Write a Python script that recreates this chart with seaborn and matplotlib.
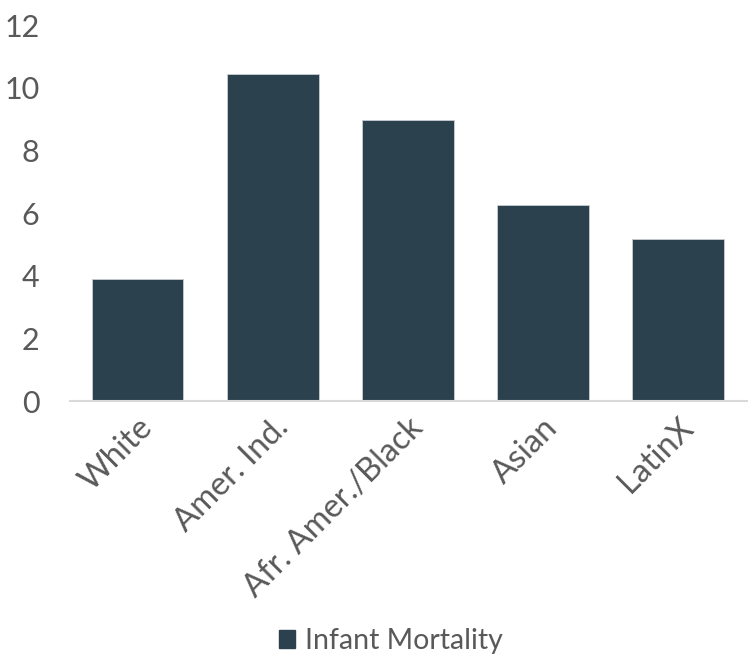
import matplotlib
matplotlib.use("Agg")
import matplotlib.pyplot as plt
import seaborn as sns
import pandas as pd
from matplotlib.patches import Patch

categories = ["White", "Amer. Ind.", "Afr. Amer./Black", "Asian", "LatinX"]
infant_mortality = [3.9, 10.45, 8.97, 6.27, 5.18]
series_name = "Infant Mortality"
y_ticks = [0, 2, 4, 6, 8, 10, 12]

bar_color = "#2B424E"
text_color = "#595959"

sns.set_theme(style="white")
plt.rcParams["font.family"] = ["Lato", "DejaVu Sans"]

df = pd.DataFrame({"group": categories, "value": infant_mortality})

fig = plt.figure(figsize=(7.48, 6.59), dpi=100)
ax = fig.add_axes([0.0936, 0.3915, 0.9064, 0.5705])

sns.barplot(data=df, x="group", y="value", color=bar_color, width=0.68,
            saturation=1, ax=ax, edgecolor="#c8cdd2", linewidth=0.6)

ax.set_ylim(0, 12)
ax.set_xlim(-0.5, 4.52)
ax.set_yticks(y_ticks)
ax.set_yticklabels([str(t) for t in y_ticks])
ax.set_xlabel("")
ax.set_ylabel("")

for s in ["top", "right", "left"]:
    ax.spines[s].set_visible(False)
ax.spines["bottom"].set_color("#D9D9D9")
ax.spines["bottom"].set_linewidth(1.5)

ax.tick_params(axis="both", length=0, colors=text_color)
ax.tick_params(axis="y", pad=22, labelsize=22)
ax.tick_params(axis="x", pad=8, labelsize=23.5)
for lbl in ax.get_xticklabels():
    lbl.set_rotation(45)
    lbl.set_ha("right")
    lbl.set_rotation_mode("anchor")

handle = Patch(facecolor=bar_color, edgecolor=bar_color, label=series_name)
fig.legend(handles=[handle], loc="center", bbox_to_anchor=(0.523, 0.027),
           frameon=False, fontsize=20.5, labelcolor=text_color,
           handlelength=0.55, handleheight=0.6, handletextpad=0.35)

fig.savefig("out.png", dpi=100)
